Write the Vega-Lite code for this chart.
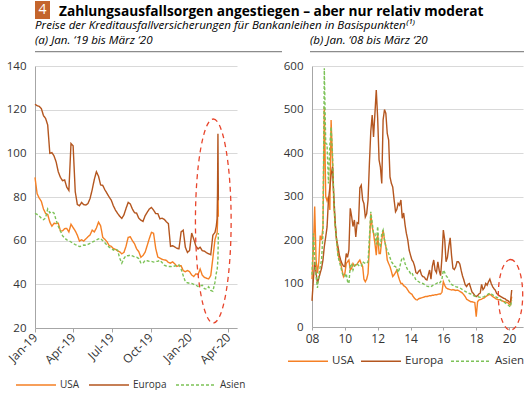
{
  "$schema": "https://vega.github.io/schema/vega-lite/v6.json",
  "background": "white",
  "padding": {"left": 1, "top": 1, "right": 0, "bottom": 0},
  "config": {
    "font": "Open Sans",
    "view": {"stroke": null},
    "axis": {"labelColor": "#333333", "domainColor": "#a6a6a6", "tickColor": "#a6a6a6", "gridColor": "#d9d9d9", "labelFont": "Open Sans", "labelFlush": false},
    "legend": {"labelColor": "#333333", "labelFont": "Open Sans"},
    "title": {"color": "#000000", "font": "Open Sans"}
  },
  "datasets": {
    "a": [
      {"d": "2019-01-01", "USA": 89, "Europa": 122.5, "Asien": 72.5},
      {"d": "2019-01-06", "USA": 81.5, "Europa": 121.8, "Asien": 72},
      {"d": "2019-01-11", "USA": 79.5, "Europa": 121.5, "Asien": 71.3},
      {"d": "2019-01-16", "USA": 78, "Europa": 120.5, "Asien": 70.3},
      {"d": "2019-01-21", "USA": 74.5, "Europa": 117.3, "Asien": 69.6},
      {"d": "2019-01-26", "USA": 72.5, "Europa": 116, "Asien": 70.4},
      {"d": "2019-01-31", "USA": 72, "Europa": 113, "Asien": 74.5},
      {"d": "2019-02-05", "USA": 68.5, "Europa": 100, "Asien": 72.8},
      {"d": "2019-02-10", "USA": 66.6, "Europa": 100.3, "Asien": 73.3},
      {"d": "2019-02-15", "USA": 68, "Europa": 98.8, "Asien": 72.6},
      {"d": "2019-02-20", "USA": 67.8, "Europa": 96, "Asien": 69.3},
      {"d": "2019-02-25", "USA": 68, "Europa": 91.5, "Asien": 66.6},
      {"d": "2019-03-02", "USA": 64.5, "Europa": 89, "Asien": 64.5},
      {"d": "2019-03-07", "USA": 64.5, "Europa": 87.5, "Asien": 62.3},
      {"d": "2019-03-12", "USA": 65.5, "Europa": 87.8, "Asien": 61.2},
      {"d": "2019-03-17", "USA": 65.6, "Europa": 84.5, "Asien": 60.4},
      {"d": "2019-03-22", "USA": 64, "Europa": 83, "Asien": 60},
      {"d": "2019-03-27", "USA": 67.5, "Europa": 104.5, "Asien": 59.4},
      {"d": "2019-04-01", "USA": 66, "Europa": 103.5, "Asien": 58.8},
      {"d": "2019-04-06", "USA": 64.5, "Europa": 82.5, "Asien": 58.2},
      {"d": "2019-04-11", "USA": 62.5, "Europa": 76.5, "Asien": 57.9},
      {"d": "2019-04-16", "USA": 59.8, "Europa": 76, "Asien": 57.3},
      {"d": "2019-04-21", "USA": 60.4, "Europa": 77.5, "Asien": 57.5},
      {"d": "2019-04-26", "USA": 59.8, "Europa": 76.5, "Asien": 58},
      {"d": "2019-05-01", "USA": 60.8, "Europa": 76.3, "Asien": 57.9},
      {"d": "2019-05-06", "USA": 61.8, "Europa": 77, "Asien": 58.3},
      {"d": "2019-05-11", "USA": 62.6, "Europa": 79.3, "Asien": 58.8},
      {"d": "2019-05-16", "USA": 64.8, "Europa": 83.3, "Asien": 59.3},
      {"d": "2019-05-21", "USA": 64, "Europa": 88, "Asien": 59.8},
      {"d": "2019-05-26", "USA": 65.8, "Europa": 91.6, "Asien": 60.3},
      {"d": "2019-05-31", "USA": 68.5, "Europa": 89.5, "Asien": 60.8},
      {"d": "2019-06-05", "USA": 66.8, "Europa": 85.5, "Asien": 61},
      {"d": "2019-06-10", "USA": 61.5, "Europa": 85.3, "Asien": 60},
      {"d": "2019-06-15", "USA": 60.6, "Europa": 83.3, "Asien": 59},
      {"d": "2019-06-20", "USA": 59.5, "Europa": 81.7, "Asien": 58},
      {"d": "2019-06-25", "USA": 57.8, "Europa": 80, "Asien": 57},
      {"d": "2019-06-30", "USA": 57.4, "Europa": 78.6, "Asien": 56.5},
      {"d": "2019-07-05", "USA": 56.4, "Europa": 76, "Asien": 55.7},
      {"d": "2019-07-10", "USA": 56, "Europa": 74, "Asien": 56.3},
      {"d": "2019-07-15", "USA": 55.4, "Europa": 72.5, "Asien": 55.6},
      {"d": "2019-07-20", "USA": 54.9, "Europa": 71.2, "Asien": 52},
      {"d": "2019-07-25", "USA": 54, "Europa": 70.2, "Asien": 49.7},
      {"d": "2019-07-30", "USA": 54.6, "Europa": 71.8, "Asien": 51.8},
      {"d": "2019-08-04", "USA": 57.5, "Europa": 74.8, "Asien": 53.2},
      {"d": "2019-08-09", "USA": 61.5, "Europa": 77.5, "Asien": 53.1},
      {"d": "2019-08-14", "USA": 61.8, "Europa": 76.8, "Asien": 53.4},
      {"d": "2019-08-19", "USA": 60, "Europa": 74.5, "Asien": 53},
      {"d": "2019-08-24", "USA": 58.6, "Europa": 72.8, "Asien": 52.6},
      {"d": "2019-08-29", "USA": 56.2, "Europa": 72.6, "Asien": 52.4},
      {"d": "2019-09-03", "USA": 55, "Europa": 70.3, "Asien": 51.8},
      {"d": "2019-09-08", "USA": 52.4, "Europa": 69.4, "Asien": 49.8},
      {"d": "2019-09-13", "USA": 53.2, "Europa": 68.8, "Asien": 49.6},
      {"d": "2019-09-18", "USA": 54.7, "Europa": 71.4, "Asien": 51},
      {"d": "2019-09-23", "USA": 57.8, "Europa": 73, "Asien": 50.8},
      {"d": "2019-09-28", "USA": 61, "Europa": 74.5, "Asien": 50.5},
      {"d": "2019-10-03", "USA": 63.8, "Europa": 75.2, "Asien": 50.5},
      {"d": "2019-10-08", "USA": 63.4, "Europa": 74, "Asien": 50.2},
      {"d": "2019-10-13", "USA": 56.5, "Europa": 72.4, "Asien": 50.5},
      {"d": "2019-10-18", "USA": 52.5, "Europa": 72.4, "Asien": 50.6},
      {"d": "2019-10-23", "USA": 52, "Europa": 70, "Asien": 51},
      {"d": "2019-10-28", "USA": 51.5, "Europa": 70.3, "Asien": 50},
      {"d": "2019-11-02", "USA": 51.2, "Europa": 69.8, "Asien": 48.8},
      {"d": "2019-11-07", "USA": 51, "Europa": 68.7, "Asien": 48.4},
      {"d": "2019-11-12", "USA": 50, "Europa": 67.8, "Asien": 48.2},
      {"d": "2019-11-17", "USA": 49.7, "Europa": 57.4, "Asien": 48.2},
      {"d": "2019-11-22", "USA": 50.3, "Europa": 57.7, "Asien": 48},
      {"d": "2019-11-27", "USA": 49.4, "Europa": 57.1, "Asien": 48.4},
      {"d": "2019-12-02", "USA": 48.2, "Europa": 56.5, "Asien": 48.7},
      {"d": "2019-12-07", "USA": 48.6, "Europa": 56.3, "Asien": 48.9},
      {"d": "2019-12-12", "USA": 48.5, "Europa": 64, "Asien": 47},
      {"d": "2019-12-17", "USA": 46.3, "Europa": 64.8, "Asien": 44},
      {"d": "2019-12-22", "USA": 45.8, "Europa": 57, "Asien": 41.2},
      {"d": "2019-12-27", "USA": 46.3, "Europa": 54.6, "Asien": 40.7},
      {"d": "2020-01-01", "USA": 45.8, "Europa": 55.5, "Asien": 40.5},
      {"d": "2020-01-06", "USA": 44.3, "Europa": 63.5, "Asien": 40.4},
      {"d": "2020-01-11", "USA": 43.6, "Europa": 60.6, "Asien": 40},
      {"d": "2020-01-16", "USA": 44.8, "Europa": 57.5, "Asien": 39.6},
      {"d": "2020-01-21", "USA": 44.5, "Europa": 56.2, "Asien": 39},
      {"d": "2020-01-26", "USA": 47, "Europa": 57, "Asien": 39.4},
      {"d": "2020-01-31", "USA": 44.2, "Europa": 55.4, "Asien": 39.6},
      {"d": "2020-02-05", "USA": 43.2, "Europa": 55.2, "Asien": 38},
      {"d": "2020-02-10", "USA": 42.8, "Europa": 54.5, "Asien": 37.8},
      {"d": "2020-02-15", "USA": 42.5, "Europa": 54, "Asien": 38.9},
      {"d": "2020-02-20", "USA": 44, "Europa": 53.6, "Asien": 37.2},
      {"d": "2020-02-25", "USA": 52, "Europa": 62.5, "Asien": 36.8},
      {"d": "2020-03-01", "USA": 60.5, "Europa": 63.8, "Asien": 41},
      {"d": "2020-03-04", "USA": 62.5, "Europa": 66.5, "Asien": 45},
      {"d": "2020-03-06", "USA": 63.4, "Europa": 70, "Asien": 46.6},
      {"d": "2020-03-07", "USA": 68, "Europa": 82, "Asien": 48.5},
      {"d": "2020-03-08", "USA": 86, "Europa": 109, "Asien": 52},
      {"d": "2020-03-09", "USA": 71, "Europa": 78.5, "Asien": 63.5}
    ],
    "b": [
      {"d": "2008-01-01", "USA": 110, "Europa": 60, "Asien": 120},
      {"d": "2008-02-01", "USA": 180, "Europa": 110, "Asien": 215},
      {"d": "2008-03-01", "USA": 277, "Europa": 150, "Asien": 160},
      {"d": "2008-04-01", "USA": 154, "Europa": 124, "Asien": 115},
      {"d": "2008-05-01", "USA": 124, "Europa": 100, "Asien": 90},
      {"d": "2008-06-01", "USA": 150, "Europa": 112, "Asien": 120},
      {"d": "2008-07-01", "USA": 210, "Europa": 124, "Asien": 139},
      {"d": "2008-08-01", "USA": 200, "Europa": 135, "Asien": 154},
      {"d": "2008-09-01", "USA": 231, "Europa": 154, "Asien": 215},
      {"d": "2008-10-01", "USA": 506, "Europa": 185, "Asien": 595},
      {"d": "2008-11-01", "USA": 300, "Europa": 207, "Asien": 422},
      {"d": "2008-12-01", "USA": 290, "Europa": 230, "Asien": 420},
      {"d": "2009-01-01", "USA": 300, "Europa": 292, "Asien": 330},
      {"d": "2009-02-01", "USA": 269, "Europa": 320, "Asien": 420},
      {"d": "2009-03-01", "USA": 476, "Europa": 350, "Asien": 460},
      {"d": "2009-04-01", "USA": 384, "Europa": 368, "Asien": 399},
      {"d": "2009-05-01", "USA": 280, "Europa": 300, "Asien": 292},
      {"d": "2009-06-01", "USA": 231, "Europa": 240, "Asien": 231},
      {"d": "2009-07-01", "USA": 200, "Europa": 200, "Asien": 200},
      {"d": "2009-08-01", "USA": 169, "Europa": 185, "Asien": 162},
      {"d": "2009-09-01", "USA": 155, "Europa": 165, "Asien": 150},
      {"d": "2009-10-01", "USA": 146, "Europa": 154, "Asien": 139},
      {"d": "2009-11-01", "USA": 130, "Europa": 145, "Asien": 125},
      {"d": "2009-12-01", "USA": 116, "Europa": 140, "Asien": 116},
      {"d": "2010-01-01", "USA": 123, "Europa": 139, "Asien": 116},
      {"d": "2010-02-01", "USA": 146, "Europa": 169, "Asien": 123},
      {"d": "2010-03-01", "USA": 150, "Europa": 160, "Asien": 105},
      {"d": "2010-04-01", "USA": 154, "Europa": 177, "Asien": 100},
      {"d": "2010-05-01", "USA": 131, "Europa": 273, "Asien": 140},
      {"d": "2010-06-01", "USA": 135, "Europa": 254, "Asien": 146},
      {"d": "2010-07-01", "USA": 146, "Europa": 231, "Asien": 131},
      {"d": "2010-08-01", "USA": 140, "Europa": 246, "Asien": 140},
      {"d": "2010-09-01", "USA": 142, "Europa": 207, "Asien": 146},
      {"d": "2010-10-01", "USA": 145, "Europa": 240, "Asien": 145},
      {"d": "2010-11-01", "USA": 150, "Europa": 238, "Asien": 142},
      {"d": "2010-12-01", "USA": 154, "Europa": 320, "Asien": 139},
      {"d": "2011-01-01", "USA": 145, "Europa": 326, "Asien": 140},
      {"d": "2011-02-01", "USA": 139, "Europa": 292, "Asien": 150},
      {"d": "2011-03-01", "USA": 110, "Europa": 284, "Asien": 148},
      {"d": "2011-04-01", "USA": 104, "Europa": 253, "Asien": 146},
      {"d": "2011-05-01", "USA": 110, "Europa": 260, "Asien": 146},
      {"d": "2011-06-01", "USA": 123, "Europa": 292, "Asien": 150},
      {"d": "2011-07-01", "USA": 185, "Europa": 376, "Asien": 207},
      {"d": "2011-08-01", "USA": 260, "Europa": 450, "Asien": 265},
      {"d": "2011-09-01", "USA": 230, "Europa": 487, "Asien": 240},
      {"d": "2011-10-01", "USA": 215, "Europa": 437, "Asien": 215},
      {"d": "2011-11-01", "USA": 192, "Europa": 491, "Asien": 215},
      {"d": "2011-12-01", "USA": 165, "Europa": 545, "Asien": 190},
      {"d": "2012-01-01", "USA": 215, "Europa": 480, "Asien": 231},
      {"d": "2012-02-01", "USA": 169, "Europa": 384, "Asien": 185},
      {"d": "2012-03-01", "USA": 169, "Europa": 368, "Asien": 185},
      {"d": "2012-04-01", "USA": 200, "Europa": 330, "Asien": 215},
      {"d": "2012-05-01", "USA": 223, "Europa": 476, "Asien": 223},
      {"d": "2012-06-01", "USA": 200, "Europa": 500, "Asien": 200},
      {"d": "2012-07-01", "USA": 185, "Europa": 491, "Asien": 185},
      {"d": "2012-08-01", "USA": 154, "Europa": 445, "Asien": 175},
      {"d": "2012-09-01", "USA": 146, "Europa": 430, "Asien": 169},
      {"d": "2012-10-01", "USA": 139, "Europa": 345, "Asien": 160},
      {"d": "2012-11-01", "USA": 128, "Europa": 330, "Asien": 150},
      {"d": "2012-12-01", "USA": 116, "Europa": 322, "Asien": 146},
      {"d": "2013-01-01", "USA": 120, "Europa": 292, "Asien": 140},
      {"d": "2013-02-01", "USA": 125, "Europa": 265, "Asien": 139},
      {"d": "2013-03-01", "USA": 131, "Europa": 270, "Asien": 135},
      {"d": "2013-04-01", "USA": 118, "Europa": 284, "Asien": 125},
      {"d": "2013-05-01", "USA": 108, "Europa": 280, "Asien": 135},
      {"d": "2013-06-01", "USA": 100, "Europa": 292, "Asien": 150},
      {"d": "2013-07-01", "USA": 100, "Europa": 250, "Asien": 160},
      {"d": "2013-08-01", "USA": 95, "Europa": 262, "Asien": 158},
      {"d": "2013-09-01", "USA": 93, "Europa": 235, "Asien": 146},
      {"d": "2013-10-01", "USA": 90, "Europa": 215, "Asien": 138},
      {"d": "2013-11-01", "USA": 85, "Europa": 200, "Asien": 131},
      {"d": "2013-12-01", "USA": 80, "Europa": 177, "Asien": 128},
      {"d": "2014-01-01", "USA": 77, "Europa": 165, "Asien": 123},
      {"d": "2014-02-01", "USA": 75, "Europa": 154, "Asien": 125},
      {"d": "2014-03-01", "USA": 70, "Europa": 150, "Asien": 118},
      {"d": "2014-04-01", "USA": 66, "Europa": 140, "Asien": 115},
      {"d": "2014-05-01", "USA": 63, "Europa": 125, "Asien": 108},
      {"d": "2014-06-01", "USA": 62, "Europa": 123, "Asien": 106},
      {"d": "2014-07-01", "USA": 65, "Europa": 128, "Asien": 104},
      {"d": "2014-08-01", "USA": 66, "Europa": 131, "Asien": 102},
      {"d": "2014-09-01", "USA": 67, "Europa": 120, "Asien": 101},
      {"d": "2014-10-01", "USA": 68, "Europa": 116, "Asien": 100},
      {"d": "2014-11-01", "USA": 69, "Europa": 115, "Asien": 98},
      {"d": "2014-12-01", "USA": 70, "Europa": 110, "Asien": 96},
      {"d": "2015-01-01", "USA": 70, "Europa": 108, "Asien": 94},
      {"d": "2015-02-01", "USA": 71, "Europa": 120, "Asien": 93},
      {"d": "2015-03-01", "USA": 72, "Europa": 131, "Asien": 93},
      {"d": "2015-04-01", "USA": 72, "Europa": 110, "Asien": 92},
      {"d": "2015-05-01", "USA": 73, "Europa": 140, "Asien": 95},
      {"d": "2015-06-01", "USA": 73, "Europa": 154, "Asien": 97},
      {"d": "2015-07-01", "USA": 74, "Europa": 131, "Asien": 98},
      {"d": "2015-08-01", "USA": 74, "Europa": 125, "Asien": 100},
      {"d": "2015-09-01", "USA": 75, "Europa": 150, "Asien": 102},
      {"d": "2015-10-01", "USA": 76, "Europa": 130, "Asien": 100},
      {"d": "2015-11-01", "USA": 76, "Europa": 118, "Asien": 104},
      {"d": "2015-12-01", "USA": 80, "Europa": 160, "Asien": 110},
      {"d": "2016-01-01", "USA": 104, "Europa": 223, "Asien": 131},
      {"d": "2016-02-01", "USA": 96, "Europa": 200, "Asien": 125},
      {"d": "2016-03-01", "USA": 90, "Europa": 150, "Asien": 118},
      {"d": "2016-04-01", "USA": 88, "Europa": 160, "Asien": 114},
      {"d": "2016-05-01", "USA": 87, "Europa": 185, "Asien": 108},
      {"d": "2016-06-01", "USA": 86, "Europa": 205, "Asien": 102},
      {"d": "2016-07-01", "USA": 85, "Europa": 165, "Asien": 98},
      {"d": "2016-08-01", "USA": 86, "Europa": 135, "Asien": 96},
      {"d": "2016-09-01", "USA": 85, "Europa": 132, "Asien": 95},
      {"d": "2016-10-01", "USA": 84, "Europa": 138, "Asien": 93},
      {"d": "2016-11-01", "USA": 85, "Europa": 150, "Asien": 92},
      {"d": "2016-12-01", "USA": 84, "Europa": 150, "Asien": 91},
      {"d": "2017-01-01", "USA": 82, "Europa": 145, "Asien": 90},
      {"d": "2017-02-01", "USA": 80, "Europa": 130, "Asien": 88},
      {"d": "2017-03-01", "USA": 78, "Europa": 118, "Asien": 86},
      {"d": "2017-04-01", "USA": 74, "Europa": 108, "Asien": 84},
      {"d": "2017-05-01", "USA": 70, "Europa": 97, "Asien": 82},
      {"d": "2017-06-01", "USA": 64, "Europa": 93, "Asien": 80},
      {"d": "2017-07-01", "USA": 62, "Europa": 98, "Asien": 79},
      {"d": "2017-08-01", "USA": 60, "Europa": 100, "Asien": 77},
      {"d": "2017-09-01", "USA": 58, "Europa": 90, "Asien": 76},
      {"d": "2017-10-01", "USA": 58, "Europa": 80, "Asien": 74},
      {"d": "2017-11-01", "USA": 57, "Europa": 77, "Asien": 72},
      {"d": "2017-12-01", "USA": 56, "Europa": 72, "Asien": 71},
      {"d": "2018-01-01", "USA": 24, "Europa": 70, "Asien": 70},
      {"d": "2018-02-01", "USA": 58, "Europa": 72, "Asien": 70},
      {"d": "2018-03-01", "USA": 62, "Europa": 76, "Asien": 69},
      {"d": "2018-04-01", "USA": 63, "Europa": 78, "Asien": 68},
      {"d": "2018-05-01", "USA": 64, "Europa": 98, "Asien": 68},
      {"d": "2018-06-01", "USA": 66, "Europa": 86, "Asien": 69},
      {"d": "2018-07-01", "USA": 67, "Europa": 90, "Asien": 70},
      {"d": "2018-08-01", "USA": 70, "Europa": 100, "Asien": 72},
      {"d": "2018-09-01", "USA": 72, "Europa": 96, "Asien": 74},
      {"d": "2018-10-01", "USA": 74, "Europa": 104, "Asien": 76},
      {"d": "2018-11-01", "USA": 75, "Europa": 110, "Asien": 78},
      {"d": "2018-12-01", "USA": 73, "Europa": 100, "Asien": 76},
      {"d": "2019-01-01", "USA": 70, "Europa": 93, "Asien": 74},
      {"d": "2019-02-01", "USA": 68, "Europa": 88, "Asien": 72},
      {"d": "2019-03-01", "USA": 66, "Europa": 85, "Asien": 70},
      {"d": "2019-04-01", "USA": 64, "Europa": 77, "Asien": 68},
      {"d": "2019-05-01", "USA": 63, "Europa": 75, "Asien": 67},
      {"d": "2019-06-01", "USA": 63, "Europa": 72, "Asien": 65},
      {"d": "2019-07-01", "USA": 62, "Europa": 70, "Asien": 62},
      {"d": "2019-08-01", "USA": 60, "Europa": 68, "Asien": 60},
      {"d": "2019-09-01", "USA": 59, "Europa": 66, "Asien": 58},
      {"d": "2019-10-01", "USA": 58, "Europa": 65, "Asien": 56},
      {"d": "2019-11-01", "USA": 57, "Europa": 62, "Asien": 53},
      {"d": "2019-12-01", "USA": 56, "Europa": 61, "Asien": 52},
      {"d": "2020-01-01", "USA": 53, "Europa": 58, "Asien": 49},
      {"d": "2020-02-01", "USA": 51, "Europa": 56, "Asien": 46},
      {"d": "2020-03-01", "USA": 70, "Europa": 85, "Asien": 62}
    ],
    "ea": [{"d": "2020-02-26", "v": 69}],
    "eb": [{"d": "2020-02-03", "v": 74}]
  },
  "columns": 1,
  "align": "none",
  "bounds": "full",
  "spacing": 1,
  "concat": [
    {
      "width": 15,
      "height": 18,
      "data": {"values": [{"n": "4"}]},
      "view": {"fill": "#c4652c", "stroke": null},
      "mark": {"type": "text", "color": "#ffffff", "fontSize": 14, "font": "Open Sans"},
      "encoding": {"text": {"field": "n"}},
      "title": {"text": "Zahlungsausfallsorgen angestiegen – aber nur relativ moderat", "orient": "top", "anchor": "start", "offset": -18, "dx": 24, "fontSize": 13.7, "fontWeight": "bold"}
    },
    {
      "columns": 1,
      "align": "none",
      "bounds": "full",
      "spacing": 3,
      "concat": [
        {
          "spacing": 28,
          "bounds": "flush",
          "hconcat": [
            {
              "width": 247,
              "height": 1.3,
              "data": {"values": [{"n": ""}]},
              "view": {"fill": "#8c8c8c", "stroke": null},
              "mark": {"type": "text", "opacity": 0},
              "encoding": {"text": {"field": "n"}},
              "title": {"text": ["Preise der Kreditausfallversicherungen für Bankanleihen in Basispunkten⁽¹⁾", "(a) Jan. ‘19 bis März ‘20"], "anchor": "start", "fontStyle": "italic", "fontWeight": "normal", "fontSize": 11.6, "lineHeight": 15, "offset": -1}
            },
            {
              "width": 247,
              "height": 1.3,
              "data": {"values": [{"n": ""}]},
              "view": {"fill": "#8c8c8c", "stroke": null},
              "mark": {"type": "text", "opacity": 0},
              "encoding": {"text": {"field": "n"}},
              "title": {"text": ["\u00a0", "(b) Jan. ‘08 bis März ‘20"], "anchor": "start", "fontStyle": "italic", "fontWeight": "normal", "fontSize": 11.6, "lineHeight": 15, "offset": -1}
            }
          ]
        },
        {
          "spacing": 75,
          "bounds": "flush",
          "resolve": {"scale": {"color": "independent", "strokeDash": "independent"}, "legend": {"color": "independent", "strokeDash": "independent"}},
          "hconcat": [
            {
              "width": 202,
              "height": 262,
              "layer": [
                {
                  "data": {"name": "a"},
                  "transform": [{"fold": ["USA", "Europa", "Asien"], "as": ["s", "v"]}],
                  "mark": {"type": "line", "strokeWidth": 1.4},
                  "encoding": {
                    "x": {"field": "d", "type": "temporal",
                      "scale": {"type": "utc", "domain": [1546300800000, 1587513600000]},
                      "axis": {"values": [1546300800000, 1554076800000, 1561939200000, 1569888000000, 1577836800000, 1585699200000],
                        "labelExpr": "utcFormat(datum.value, '%b-%y')", "labelAngle": -45, "labelAlign": "right", "labelBaseline": "middle", "labelFontSize": 12, "tickSize": 4, "labelPadding": 3, "labelFlush": false, "grid": false, "title": null}},
                    "y": {"field": "v", "type": "quantitative",
                      "scale": {"domain": [20, 140], "nice": false, "zero": false},
                      "axis": {"values": [20, 40, 60, 80, 100, 120, 140], "grid": true, "tickSize": 0, "labelPadding": 9, "labelFontSize": 11.5, "title": "\u00a0", "titleFontSize": 1, "titlePadding": 4}},
                    "color": {"field": "s", "type": "nominal",
                      "scale": {"domain": ["USA", "Europa", "Asien"], "range": ["#f58025", "#b4561f", "#7cc257"]},
                      "legend": {"orient": "none", "legendX": -20, "legendY": 298, "direction": "horizontal", "title": null, "symbolType": "stroke", "symbolSize": 1600, "symbolStrokeWidth": 1.5, "labelFontSize": 10, "labelOffset": 3, "columnPadding": 6}},
                    "strokeDash": {"field": "s", "type": "nominal",
                      "scale": {"domain": ["USA", "Europa", "Asien"], "range": [[1, 0], [1, 0], [3, 2]]},
                      "legend": {"orient": "none", "legendX": -20, "legendY": 298, "direction": "horizontal", "title": null, "symbolType": "stroke", "symbolSize": 1600, "symbolStrokeWidth": 1.5, "labelFontSize": 10, "labelOffset": 3, "columnPadding": 6}}
                  }
                },
                {
                  "data": {"name": "ea"},
                  "mark": {"type": "point", "shape": "M0,-1C0.0967,-1,0.175,-0.5523,0.175,0C0.175,0.5523,0.0967,1,0,1C-0.0967,1,-0.175,0.5523,-0.175,0C-0.175,-0.5523,-0.0967,-1,0,-1Z", "size": 41616, "filled": false, "stroke": "#e8452c", "strokeWidth": 1.3, "strokeDash": [5, 4], "opacity": 1},
                  "encoding": {
                    "x": {"field": "d", "type": "temporal",
                      "axis": {"values": [1546300800000, 1554076800000, 1561939200000, 1569888000000, 1577836800000, 1585699200000],
                        "labelExpr": "utcFormat(datum.value, '%b-%y')", "labelAngle": -45, "labelAlign": "right", "labelBaseline": "middle", "labelFontSize": 12, "tickSize": 4, "labelPadding": 3, "labelFlush": false, "grid": false, "title": null}},
                    "y": {"field": "v", "type": "quantitative",
                      "axis": {"values": [20, 40, 60, 80, 100, 120, 140], "grid": true, "tickSize": 0, "labelPadding": 9, "labelFontSize": 11.5, "title": "\u00a0", "titleFontSize": 1, "titlePadding": 4}}
                  }
                }
              ]
            },
            {
              "width": 211,
              "height": 261,
              "layer": [
                {
                  "data": {"name": "b"},
                  "transform": [{"fold": ["USA", "Europa", "Asien"], "as": ["s", "v"]}],
                  "mark": {"type": "line", "strokeWidth": 1.4},
                  "encoding": {
                    "x": {"field": "d", "type": "temporal",
                      "scale": {"type": "utc", "domain": [1199145600000, 1604707200000]},
                      "axis": {"values": [1199145600000, 1262304000000, 1325376000000, 1388534400000, 1451606400000, 1514764800000, 1577836800000],
                        "labelExpr": "utcFormat(datum.value, '%y')", "labelAngle": 0, "labelFontSize": 12, "tickSize": 3, "labelPadding": 3, "labelFlush": false, "grid": false, "title": null}},
                    "y": {"field": "v", "type": "quantitative",
                      "scale": {"domain": [0, 600], "nice": false},
                      "axis": {"values": [0, 100, 200, 300, 400, 500, 600], "grid": true, "tickSize": 0, "labelPadding": 9, "labelFontSize": 11.5, "title": null}},
                    "color": {"field": "s", "type": "nominal",
                      "scale": {"domain": ["USA", "Europa", "Asien"], "range": ["#f58025", "#b4561f", "#7cc257"]},
                      "legend": {"orient": "none", "legendX": -25, "legendY": 274, "direction": "horizontal", "title": null, "symbolType": "stroke", "symbolSize": 1600, "symbolStrokeWidth": 1.5, "labelFontSize": 11.5, "labelOffset": 3, "columnPadding": 4}},
                    "strokeDash": {"field": "s", "type": "nominal",
                      "scale": {"domain": ["USA", "Europa", "Asien"], "range": [[1, 0], [1, 0], [3, 2]]},
                      "legend": {"orient": "none", "legendX": -25, "legendY": 274, "direction": "horizontal", "title": null, "symbolType": "stroke", "symbolSize": 1600, "symbolStrokeWidth": 1.5, "labelFontSize": 11.5, "labelOffset": 3, "columnPadding": 4}}
                  }
                },
                {
                  "data": {"name": "eb"},
                  "mark": {"type": "point", "shape": "M0,-1C0.1909,-1,0.3456,-0.5523,0.3456,0C0.3456,0.5523,0.1909,1,0,1C-0.1909,1,-0.3456,0.5523,-0.3456,0C-0.3456,-0.5523,-0.1909,-1,0,-1Z", "size": 4984, "filled": false, "stroke": "#e8452c", "strokeWidth": 1.3, "strokeDash": [5, 4], "opacity": 1},
                  "encoding": {
                    "x": {"field": "d", "type": "temporal",
                      "axis": {"values": [1199145600000, 1262304000000, 1325376000000, 1388534400000, 1451606400000, 1514764800000, 1577836800000],
                        "labelExpr": "utcFormat(datum.value, '%y')", "labelAngle": 0, "labelFontSize": 12, "tickSize": 3, "labelPadding": 3, "labelFlush": false, "grid": false, "title": null}},
                    "y": {"field": "v", "type": "quantitative",
                      "axis": {"values": [0, 100, 200, 300, 400, 500, 600], "grid": true, "tickSize": 0, "labelPadding": 9, "labelFontSize": 11.5, "title": null}}
                  }
                }
              ]
            }
          ]
        }
      ]
    }
  ]
}
